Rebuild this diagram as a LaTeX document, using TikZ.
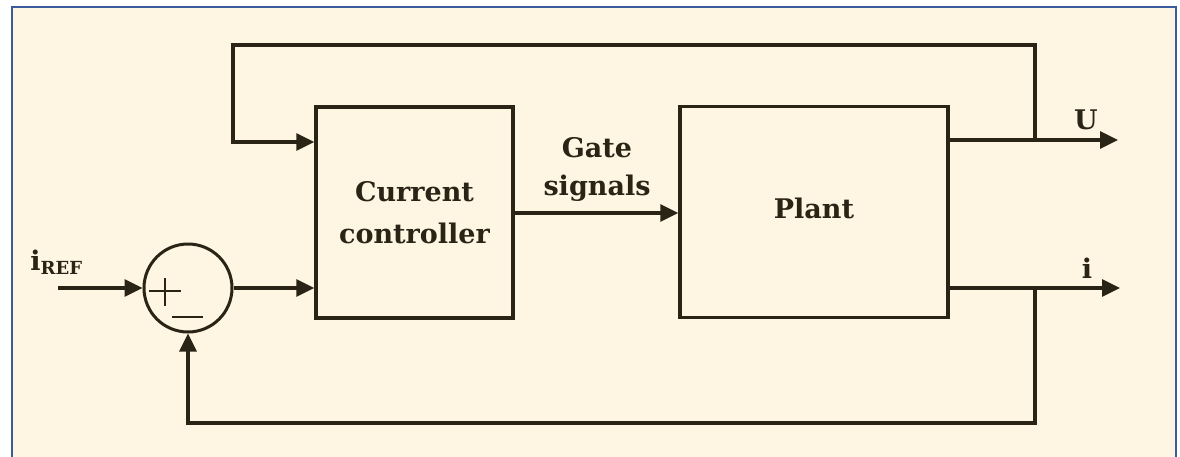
\documentclass[tikz,border=0pt]{standalone}
\usepackage{fontspec}
\setmainfont{DejaVu Serif}
\usetikzlibrary{arrows.meta}
\definecolor{paper}{HTML}{FEF6E3}
\definecolor{frameblue}{HTML}{3A5C9C}
\definecolor{ink}{HTML}{2A2416}
\tikzset{
  blockbox/.style={draw=ink, line width=1.7pt, minimum width=98.5pt, minimum height=105.5pt,
    inner sep=0pt, align=center, font=\bfseries\fontsize{13.5}{21}\selectfont, text=ink},
  wire/.style={draw=ink, line width=1.6pt},
  sig/.style={wire, -{Triangle[length=9pt,width=8.5pt]}},
  lbl/.style={font=\bfseries\fontsize{13.5}{19}\selectfont, text=ink, inner sep=0pt, align=center}
}
\begin{document}
\begin{tikzpicture}[x=0.5pt,y=-0.5pt]
  \useasboundingbox (0,0) rectangle (1180,456);
  \clip (0,0) rectangle (1180,456);
  % page frame
  \fill[white] (0,0) rectangle (1180,456);
  \draw[frameblue, fill=paper, line width=1.2pt] (12,7) rectangle (1176,480);

  % blocks
  \node[blockbox] (cc) at (414.5,212.5) {Current\\controller};
  \node[blockbox, minimum width=134pt, text depth=4pt] (plant) at (814,212) {Plant};
  \node[circle, draw=ink, line width=1.5pt, minimum size=44pt, inner sep=0pt] (sum) at (188,288) {};
  % plus and minus marks inside the summing junction
  \draw[ink, line width=1.1pt] (sum.center) ++(-39,3) -- ++(32,0)
        (sum.center) ++(-23,-10) -- ++(0,28);
  \draw[ink, line width=1.1pt] (sum.center) ++(-16,29) -- ++(31,0);

  % junction points
  \coordinate (in) at (58,288);
  \coordinate (ufork) at (1035,140);
  \coordinate (ifork) at (1035,288);
  \coordinate (uend) at (1118,140);
  \coordinate (iend) at (1120,288);
  \coordinate (topl) at (233,45);
  \coordinate (ccup) at (cc.west |- 0,142);
  \coordinate (ccdn) at (cc.west |- 0,288);

  % signal paths
  \draw[sig] (in) -- (sum.west);
  \draw[sig] (sum.east) -- (ccdn);
  \draw[sig] (cc.east |- 0,213) -- (plant.west |- 0,213);
  \draw[sig] (plant.east |- ufork) -- (uend);
  \draw[sig] (plant.east |- ifork) -- (iend);
  \draw[sig] (ufork) |- (topl) |- (ccup);
  \draw[sig] (ifork) |- (sum.south |- 0,423) -- (sum.south);

  % labels
  \node[lbl, anchor=south] (gs) at (597,202) {Gate\\signals};
  \node[lbl] (ulab) at (1086,120) {U};
  \node[lbl] (ilab) at (1087,268) {i};
  \node[lbl, anchor=base west] (iref) at (30,270) {i\textsubscript{\fontsize{9}{10}\selectfont REF}};
\end{tikzpicture}
\end{document}
